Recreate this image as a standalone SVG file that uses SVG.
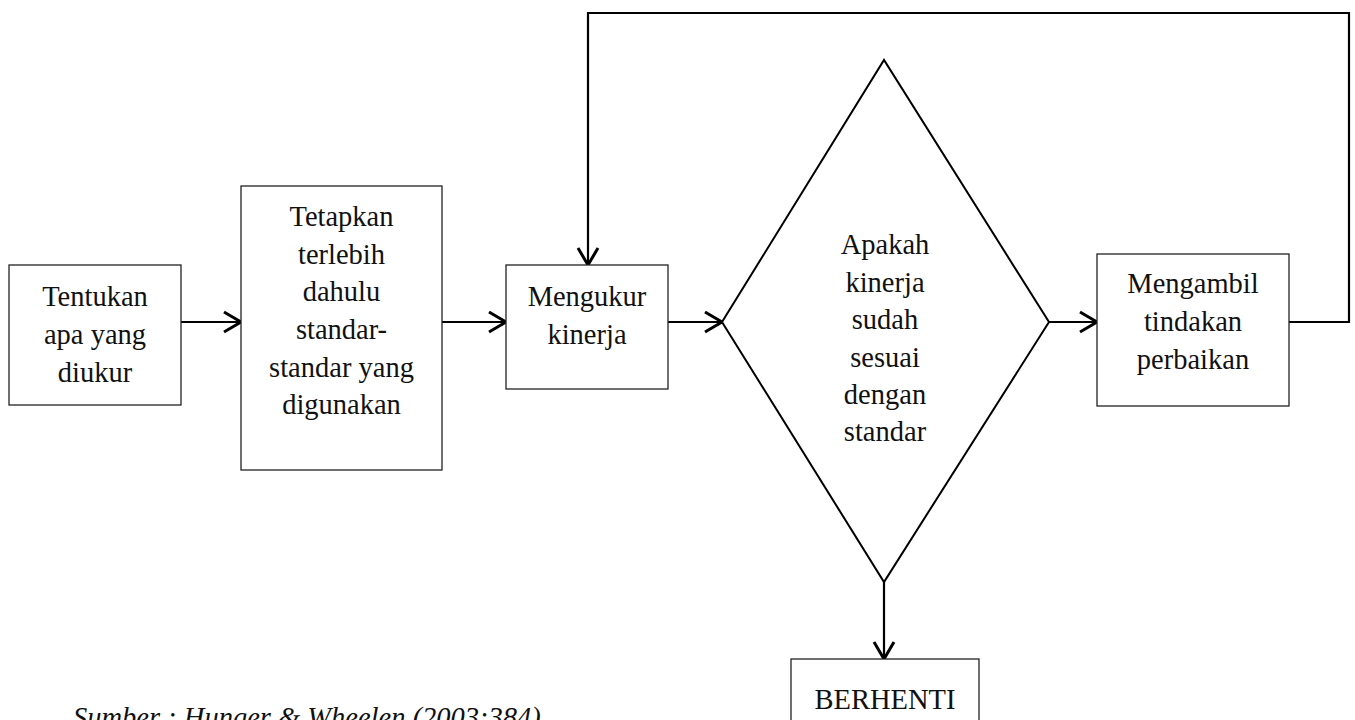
<svg xmlns="http://www.w3.org/2000/svg" width="1355" height="720" viewBox="0 0 1355 720">
<style>
.box{fill:#fff;stroke:#222;stroke-width:1.3}
.dia{fill:#fff;stroke:#000;stroke-width:2}
.t{font-family:"Liberation Serif","Times New Roman",serif;font-size:28.5px;fill:#111;text-anchor:middle}
.cap{font-family:"Liberation Serif","Times New Roman",serif;font-size:28.5px;font-style:italic;fill:#111}
.c{fill:none;stroke:#000;stroke-width:2.2}
</style>
<defs>
<marker id="arr" markerUnits="userSpaceOnUse" markerWidth="30" markerHeight="30" viewBox="-20 -15 30 30" refX="0" refY="0" orient="auto" overflow="visible">
<path d="M-17,-10 L0,0 L-17,10" fill="none" stroke="#000" stroke-width="3"/>
</marker>
</defs>
<rect width="1355" height="720" fill="#fff"/>
<g id="connectors">
<line class="c" x1="181" y1="322" x2="241" y2="322" marker-end="url(#arr)"/>
<line class="c" x1="442" y1="322" x2="506" y2="322" marker-end="url(#arr)"/>
<line class="c" x1="668" y1="322" x2="722" y2="322" marker-end="url(#arr)"/>
<line class="c" x1="1049" y1="322" x2="1097" y2="322" marker-end="url(#arr)"/>
<polyline class="c" points="1289,322 1349,322 1349,13 588,13 588,265" marker-end="url(#arr)"/>
<line class="c" x1="884" y1="582" x2="884" y2="659" marker-end="url(#arr)"/>
</g>
<g id="n1">
<rect class="box" x="9" y="265" width="172" height="140"/>
<text class="t" x="95" y="306">Tentukan</text>
<text class="t" x="95" y="344">apa yang</text>
<text class="t" x="95" y="382">diukur</text>
</g>
<g id="n2">
<rect class="box" x="241" y="186" width="201" height="284"/>
<text class="t" x="341.5" y="226">Tetapkan</text>
<text class="t" x="341.5" y="264">terlebih</text>
<text class="t" x="341.5" y="301">dahulu</text>
<text class="t" x="341.5" y="339">standar-</text>
<text class="t" x="341.5" y="377">standar yang</text>
<text class="t" x="341.5" y="414">digunakan</text>
</g>
<g id="n3">
<rect class="box" x="506" y="265" width="162" height="124"/>
<text class="t" x="587" y="306">Mengukur</text>
<text class="t" x="587" y="344">kinerja</text>
</g>
<g id="n4">
<polygon class="dia" points="722,322 884,60 1049,322 884,582"/>
<text class="t" x="885" y="254">Apakah</text>
<text class="t" x="885" y="292">kinerja</text>
<text class="t" x="885" y="329">sudah</text>
<text class="t" x="885" y="367">sesuai</text>
<text class="t" x="885" y="404">dengan</text>
<text class="t" x="885" y="441">standar</text>
</g>
<g id="n5">
<rect class="box" x="1097" y="254" width="192" height="152"/>
<text class="t" x="1193" y="293">Mengambil</text>
<text class="t" x="1193" y="331">tindakan</text>
<text class="t" x="1193" y="369">perbaikan</text>
</g>
<g id="n6">
<rect class="box" x="791" y="659" width="188" height="80"/>
<text class="t" x="885" y="709">BERHENTI</text>
</g>
<g id="caption">
<text class="cap" x="73" y="727">Sumber : Hunger &amp; Wheelen (2003:384)</text>
</g>
</svg>
